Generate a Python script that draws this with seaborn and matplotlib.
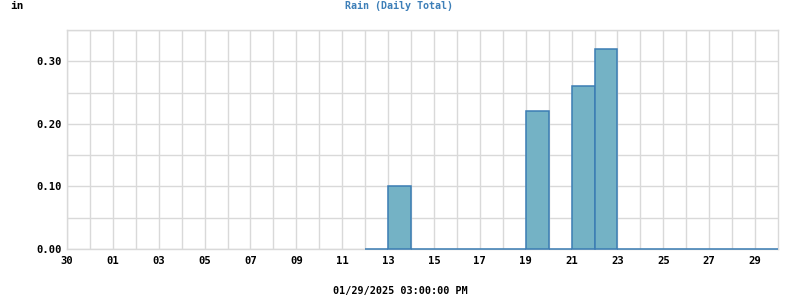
import matplotlib
matplotlib.use("Agg")
import matplotlib.pyplot as plt
import seaborn as sns
import numpy as np
import pandas as pd

# Data: days Jan 12 .. Jan 29 (2025), daily rain totals in inches
days = [12, 13, 14, 15, 16, 17, 18, 19, 20, 21, 22, 23, 24, 25, 26, 27, 28, 29]
rain = [0.0, 0.10, 0.0, 0.0, 0.0, 0.0, 0.0, 0.22, 0.0, 0.26, 0.32,
        0.0, 0.0, 0.0, 0.0, 0.0, 0.0, 0.0]
x_tick_labels = ["30", "01", "03", "05", "07", "09", "11", "13", "15",
                 "17", "19", "21", "23", "25", "27", "29"]
y_ticks = [0.00, 0.10, 0.20, 0.30]

# position index: 0 = Dec 30, 1 = Dec 31, 2 = Jan 1, ...
pos = [d + 1 for d in days]
df = pd.DataFrame({"pos": pos, "rain": rain})

sns.set_theme(style="white")
plt.rcParams["font.family"] = ["DejaVu Sans Mono", "DejaVu Sans"]

fig = plt.figure(figsize=(8, 3), dpi=100)
ax = fig.add_axes([67/800, 1 - 249/300, (778 - 67)/800, (249 - 30)/300])

edges = [float(e) for e in range(pos[0], pos[-1] + 2)]
sns.histplot(data=df, x="pos", weights="rain", bins=edges, ax=ax,
             color="#74b2c5", edgecolor="#3b7db4", linewidth=1.1,
             alpha=1.0, zorder=3)
for p in ax.patches:
    p.set_clip_on(False)

ax.set_xlim(0, 31)
ax.set_ylim(0, 0.35)
ax.set_xticks(np.arange(0, 31, 1), minor=True)
ax.set_xticks(np.arange(0, 31, 2))
ax.set_xticklabels(x_tick_labels)
ax.set_yticks(np.arange(0, 0.351, 0.05), minor=True)
ax.set_yticks(y_ticks)
ax.set_yticklabels([f"{v:.2f}" for v in y_ticks])
ax.grid(True, which="both", color="#d9d9d9", linewidth=1.0, zorder=0)
ax.set_axisbelow(True)
for s in ax.spines.values():
    s.set_color("#d9d9d9")
    s.set_linewidth(1.0)
ax.tick_params(axis="both", which="both", length=0, labelsize=7.6)
ax.tick_params(axis="x", pad=5)
ax.tick_params(axis="y", pad=4)
for lab in ax.get_xticklabels() + ax.get_yticklabels():
    lab.set_fontweight("bold")
    lab.set_color("black")
ax.set_xlabel("")
ax.set_ylabel("")

fig.text(10/800, 1 - 6/300, "in", ha="left", va="center", fontsize=8,
         fontweight="bold", color="black")
fig.text(399/800, 1 - 6/300, "Rain (Daily Total)", ha="center", va="center",
         fontsize=7.2, fontweight="bold", color="#3d7fb8")
fig.text(400/800, 1 - 291/300, "01/29/2025 03:00:00 PM", ha="center",
         va="center", fontsize=7.3, fontweight="bold", color="black")

fig.savefig("out.png", dpi=100, facecolor="white")
